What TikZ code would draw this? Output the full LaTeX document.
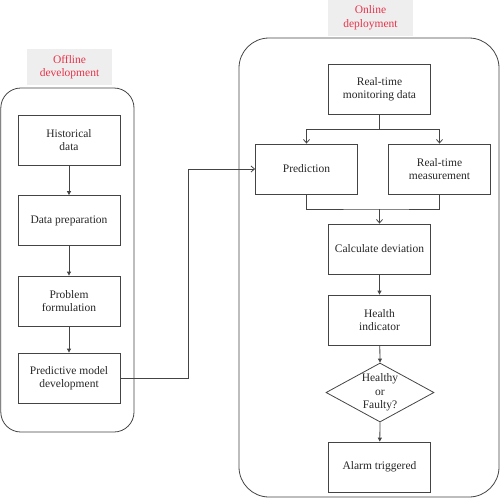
\documentclass[tikz,border=0pt]{standalone}
\usepackage{fontspec}
\setmainfont{Liberation Serif}
\usetikzlibrary{shapes.geometric,arrows.meta}
\definecolor{linegray}{HTML}{444444}
\definecolor{labred}{HTML}{E8334A}
\definecolor{labfill}{HTML}{EEEEEE}
\tikzset{
  txt/.style={font=\fontsize{11.5}{13.5}\selectfont, align=center, text=black!85},
  stepbox/.style={txt, draw=linegray, line width=0.8pt, rectangle, minimum width=102pt, minimum height=50pt, inner sep=2pt},
  dia/.style={draw=linegray, line width=0.8pt, diamond, minimum width=108pt, minimum height=59pt, inner sep=0pt},
  container/.style={draw=linegray, line width=0.8pt},
  lab/.style={fill=labfill, font=\fontsize{11.5}{13.5}\selectfont, align=center, text=labred, inner sep=0pt},
  conn/.style={draw=linegray, line width=0.8pt},
  farrow/.style={conn, -{Triangle[length=4pt,width=4pt]}},
  barrow/.style={conn, -{Straight Barb[length=3.5pt,width=6pt]}},
}
\begin{document}
\begin{tikzpicture}[x=1pt,y=-1pt]
\useasboundingbox (0,0) rectangle (500,498);
% containers
\draw[container, rounded corners=20pt] (0.8,88) rectangle (134,432);
\draw[container, rounded corners=30pt] (239,38) rectangle (499,497);
% labels
\node[lab, minimum width=85pt, minimum height=36pt] (offl) at (69.5,67) {Offline\\development};
\node[lab, minimum width=85pt, minimum height=36pt] (onl) at (370.5,18) {Online\\deployment};
% left boxes
\node[stepbox] (hist) at (69,140) {Historical\\data};
\node[stepbox] (prep) at (69,220.5) {Data preparation};
\node[stepbox] (prob) at (69,301) {Problem\\formulation};
\node[stepbox] (pm) at (69,378) {Predictive model\\development};
% right boxes
\node[stepbox] (mon) at (379.5,89) {Real-time\\monitoring data};
\node[stepbox] (pred) at (306.5,169) {Prediction};
\node[stepbox] (meas) at (439.5,169) {Real-time\\measurement};
\node[stepbox] (calc) at (379.5,249) {Calculate deviation};
\node[stepbox] (hi) at (379.5,320) {Health\\indicator};
\node[dia] (dec) at (380,392.5) {};
\node[txt] (dectext) at (380,392.5) {Healthy\\or\\Faulty?};
\node[stepbox] (alarm) at (379.5,467) {Alarm triggered};
% left connectors
\draw[farrow] (hist) -- (prep);
\draw[farrow] (prep) -- (prob);
\draw[farrow] (prob) -- (pm);
% cross connector
\draw[barrow] (pm.east) -- ++(68,0) |- (pred.west);
% split
\coordinate (split) at (379.5,129);
\draw[conn] (mon.south) -- (split);
\draw[barrow] (split) -| (pred.north);
\draw[barrow] (split) -| (meas.north);
% merge
\coordinate (merge) at (379.5,209);
\draw[conn] (pred.south) |- (merge) -| (meas.south);
\draw[barrow] (merge) -- (calc.north);
% lower chain
\draw[farrow] (calc) -- (hi);
\draw[farrow] (hi) -- (dec.north);
\draw[farrow] (dec.south) -- (alarm);
\end{tikzpicture}
\end{document}
